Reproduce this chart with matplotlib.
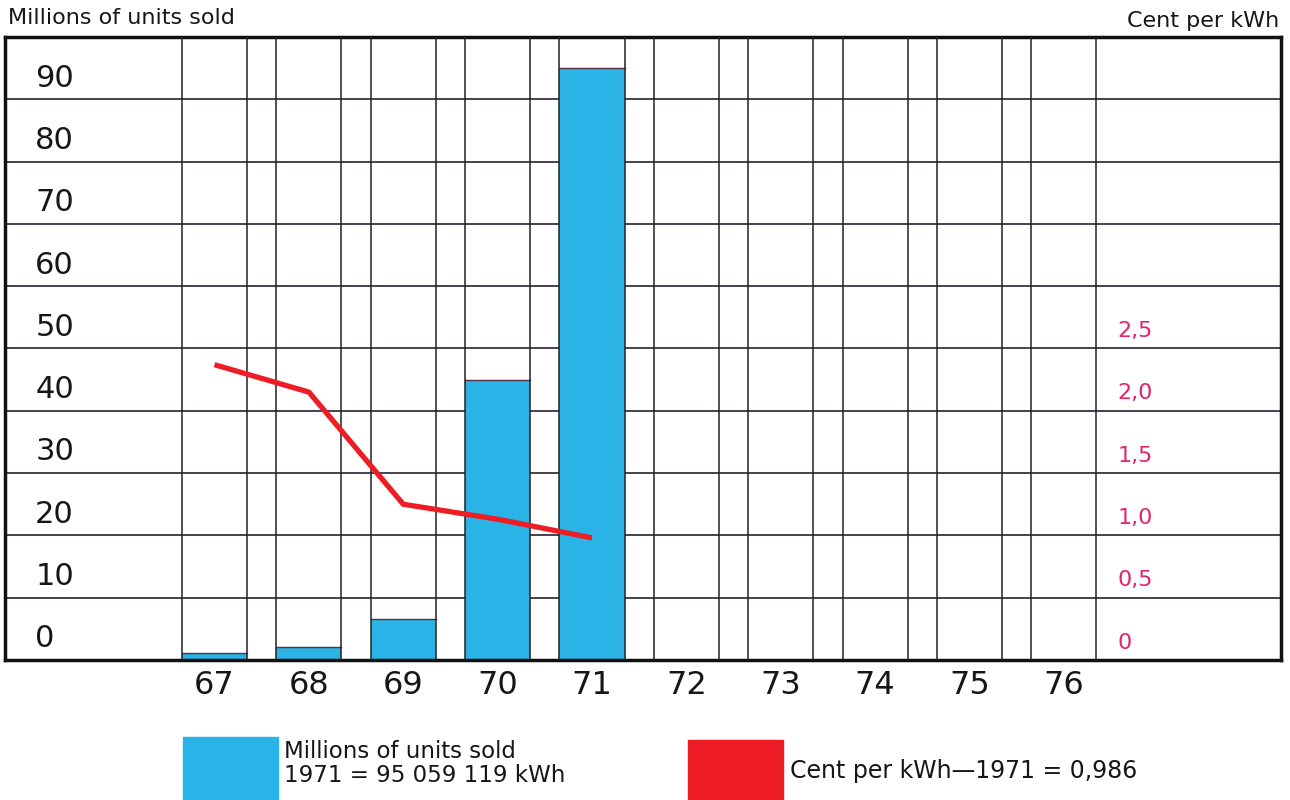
import matplotlib
matplotlib.use("Agg")
import matplotlib.pyplot as plt
from matplotlib import patches

plt.rcParams['font.family'] = ['DejaVu Sans']

# data
years = ["67", "68", "69", "70", "71", "72", "73", "74", "75", "76"]
units_sold = [1.1, 2.1, 6.6, 45.0, 95.0]          # millions of units, 1967-1971
cent_per_kwh = [2.37, 2.15, 1.25, 1.13, 0.98]     # cent per kWh, 1967-1971
left_ticks = [0, 10, 20, 30, 40, 50, 60, 70, 80, 90]
right_ticks = [0, 0.5, 1.0, 1.5, 2.0, 2.5]
right_labels = ["0", "0,5", "1,0", "1,5", "2,0", "2,5"]

blue = "#2ab3e6"
red = "#ee1c24"
grid_col = "#3a3044"
pink = "#e3246a"
ink = "#161616"
bar_w = 0.69

fig = plt.figure(figsize=(12.9, 8), dpi=100)
ax = fig.add_axes([5 / 1290, 140 / 800, 1276 / 1290, 623 / 800])
ax.set_xlim(-2.22, 11.30)
ax.set_ylim(0, 100)

# horizontal grid (behind bars)
for v in range(10, 100, 10):
    ax.axhline(v, color=grid_col, lw=1.3, zorder=1)

xs = list(range(len(years)))
ax.bar(xs[:len(units_sold)], units_sold, width=bar_w, color=blue, edgecolor="none", zorder=2)
# thin dark rim on bar tops
for x, v in zip(xs, units_sold):
    ax.plot([x - bar_w / 2, x + bar_w / 2], [v, v], color="#5a3040", lw=1, zorder=3)

# vertical lines for each year column
for x in xs:
    for edge in (x - bar_w / 2, x + bar_w / 2):
        ax.axvline(edge, color="#222222", lw=1.1, zorder=3)

# left axis labels sit inside the cell above each line
for v in left_ticks:
    ax.text(-1.90, v + 3.4, str(v), fontsize=22, ha="left", va="center", color=ink)

ax.set_xticks(xs)
ax.set_xticklabels(years, fontsize=23, color=ink)
ax.tick_params(axis="x", length=0, pad=7)
ax.set_yticks([])
for s in ax.spines.values():
    s.set_linewidth(2.5)
    s.set_color("#111111")

# secondary scale for the price line
ax2 = ax.twinx()
ax2.set_ylim(0, 5)
ax2.set_yticks([])
ax2.plot(xs[:len(cent_per_kwh)], cent_per_kwh, color=red, lw=3.8, zorder=5,
         solid_capstyle="butt")
for v, lab in zip(right_ticks, right_labels):
    ax2.text(9.57, v + 0.14, lab, fontsize=16, color=pink, ha="left", va="center")
for s in ax2.spines.values():
    s.set_visible(False)

# titles above the axes
fig.text(8 / 1290, 0.977, "Millions of units sold", fontsize=16, ha="left", va="center", color=ink)
fig.text(1279 / 1290, 0.974, "Cent per kWh", fontsize=16, ha="right", va="center", color=ink)

# legend drawn by hand like the original
fig.patches.append(patches.Rectangle((183 / 1290, 0), 95 / 1290, 63 / 800,
                                     transform=fig.transFigure, color=blue))
fig.patches.append(patches.Rectangle((688 / 1290, 0), 95 / 1290, 60 / 800,
                                     transform=fig.transFigure, color=red))
fig.text(284 / 1290, 0.060, "Millions of units sold", fontsize=16.5, ha="left", va="center", color=ink)
fig.text(284 / 1290, 0.030, "1971 = 95 059 119 kWh", fontsize=16.5, ha="left", va="center", color=ink)
fig.text(790 / 1290, 0.036, "Cent per kWh\u20141971 = 0,986", fontsize=17, ha="left", va="center", color=ink)

fig.savefig("out.png", dpi=100)
